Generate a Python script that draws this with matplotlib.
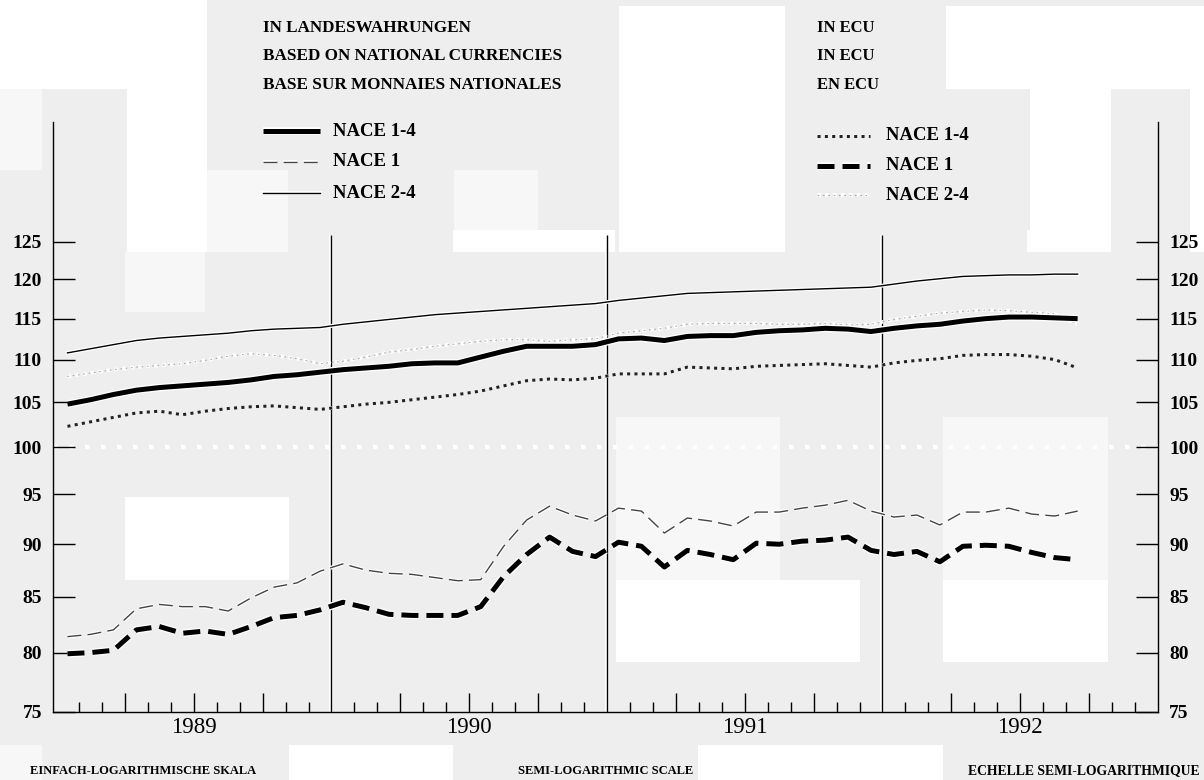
import numpy as np
import matplotlib.pyplot as plt
import matplotlib.patheffects as pe
import matplotlib.transforms as mtransforms
from matplotlib.lines import Line2D
from matplotlib.patches import Rectangle
from matplotlib.ticker import FixedLocator, NullLocator

plt.rcParams['font.family'] = ['Liberation Serif', 'DejaVu Serif']

# Indices mensuels, janv. 1989 - sept. 1992 (base 100)
nat_1_4 = [104.8, 105.3, 105.9, 106.4, 106.7, 106.9, 107.1, 107.3, 107.6, 108.0, 108.2, 108.5,
           108.8, 109.0, 109.2, 109.5, 109.6, 109.6, 110.3, 111.0, 111.6, 111.6, 111.6, 111.8,
           112.5, 112.6, 112.3, 112.8, 112.9, 112.9, 113.3, 113.5, 113.6, 113.8, 113.7, 113.4,
           113.8, 114.1, 114.3, 114.7, 115.0, 115.2, 115.2, 115.1, 115.0]
nat_1 = [81.4, 81.6, 82.0, 83.9, 84.3, 84.1, 84.1, 83.7, 84.9, 85.9, 86.3, 87.4,
         88.1, 87.5, 87.2, 87.1, 86.8, 86.5, 86.6, 89.8, 92.4, 93.8, 92.9, 92.3,
         93.6, 93.3, 91.1, 92.6, 92.3, 91.8, 93.2, 93.2, 93.6, 93.9, 94.4, 93.3,
         92.7, 92.9, 91.9, 93.2, 93.2, 93.6, 93.0, 92.8, 93.3]
nat_2_4 = [110.8, 111.3, 111.8, 112.3, 112.6, 112.8, 113.0, 113.2, 113.5, 113.7, 113.8, 113.9,
           114.3, 114.6, 114.9, 115.2, 115.5, 115.7, 115.9, 116.1, 116.3, 116.5, 116.7, 116.9,
           117.3, 117.6, 117.9, 118.2, 118.3, 118.4, 118.5, 118.6, 118.7, 118.8, 118.9, 119.0,
           119.4, 119.8, 120.1, 120.4, 120.5, 120.6, 120.6, 120.7, 120.7]
ecu_1_4 = [102.3, 102.8, 103.3, 103.8, 104.0, 103.6, 104.0, 104.3, 104.5, 104.6, 104.4, 104.2,
           104.5, 104.8, 105.0, 105.3, 105.6, 105.9, 106.3, 106.9, 107.5, 107.7, 107.6, 107.8,
           108.3, 108.3, 108.3, 109.1, 109.0, 108.9, 109.2, 109.3, 109.4, 109.5, 109.3, 109.1,
           109.6, 109.9, 110.1, 110.5, 110.6, 110.6, 110.4, 110.0, 109.0]
ecu_1 = [79.9, 80.0, 80.2, 82.0, 82.3, 81.7, 81.9, 81.6, 82.3, 83.1, 83.3, 83.8,
         84.5, 84.0, 83.4, 83.3, 83.3, 83.3, 84.1, 86.9, 89.0, 90.7, 89.3, 88.8,
         90.2, 89.8, 87.8, 89.4, 89.0, 88.5, 90.1, 90.0, 90.3, 90.4, 90.7, 89.4,
         89.0, 89.3, 88.3, 89.8, 89.9, 89.8, 89.2, 88.7, 88.5]
ecu_2_4 = [108.0, 108.4, 108.8, 109.1, 109.3, 109.5, 109.9, 110.4, 110.7, 110.5, 110.1, 109.5,
           109.8, 110.3, 110.9, 111.2, 111.6, 111.9, 112.2, 112.4, 112.4, 112.2, 112.4, 112.5,
           113.2, 113.5, 113.8, 114.3, 114.4, 114.4, 114.4, 114.3, 114.3, 114.4, 114.2, 114.3,
           114.9, 115.3, 115.7, 115.9, 116.1, 116.0, 115.8, 115.6, 114.3]

years = ['1989', '1990', '1991', '1992']
yticks = [75, 80, 85, 90, 95, 100, 105, 110, 115, 120, 125]

header_nat = ['IN LANDESWAHRUNGEN', 'BASED ON NATIONAL CURRENCIES', 'BASE SUR MONNAIES NATIONALES']
header_ecu = ['IN ECU', 'IN ECU', 'EN ECU']
labels = ['NACE 1-4', 'NACE 1', 'NACE 2-4']
bottom_texts = ['EINFACH-LOGARITHMISCHE SKALA', 'SEMI-LOGARITHMIC SCALE', 'ECHELLE SEMI-LOGARITHMIQUE']

W, H = 1204, 780
def fx(x): return x / W
def fy(y): return 1 - y / H

halo = [pe.withStroke(linewidth=5.5, foreground='white')]
halo_thin = [pe.withStroke(linewidth=2.8, foreground='white')]

styles = {
    'nat_1_4': dict(color='black', lw=3.6, solid_capstyle='butt', path_effects=halo),
    'nat_1': dict(color='#444444', lw=1.0, dashes=(10, 4.5), path_effects=halo_thin),
    'nat_2_4': dict(color='black', lw=1.0, path_effects=halo_thin),
    'ecu_1_4': dict(color='#222222', lw=2.2, dashes=(1.0, 1.4), path_effects=halo_thin),
    'ecu_1': dict(color='black', lw=3.6, dashes=(3.4, 1.6), path_effects=halo),
    'ecu_2_4': dict(color='white', lw=2.6, dashes=(1.0, 1.2)),
}

fig = plt.figure(figsize=(W / 100, H / 100), dpi=100)
fig.patch.set_facecolor('#eeeeee')

# fond en blocs (aspect de scan)
blocks = [
    (0, 0, 207, 89, 'white'), (619, 6, 785, 89, 'white'), (946, 6, 1204, 89, 'white'),
    (0, 89, 42, 170, '#f7f7f7'), (127, 89, 207, 252, 'white'), (619, 89, 785, 252, 'white'),
    (1030, 89, 1111, 252, 'white'), (1190, 89, 1204, 252, 'white'),
    (207, 170, 288, 252, '#f7f7f7'), (454, 170, 538, 252, '#f7f7f7'),
    (125, 252, 205, 312, '#f7f7f7'), (453, 230, 615, 252, 'white'), (1027, 230, 1108, 252, 'white'),
    (616, 417, 780, 580, '#f7f7f7'), (943, 417, 1108, 580, '#f7f7f7'),
    (125, 497, 289, 580, 'white'), (616, 580, 860, 662, 'white'), (943, 580, 1108, 662, 'white'),
    (289, 745, 453, 780, 'white'), (698, 745, 943, 780, 'white'), (0, 745, 42, 780, '#f7f7f7'),
]
for x0, y0, x1, y1, c in blocks:
    fig.patches.append(Rectangle((fx(x0), fy(y1)), fx(x1 - x0), (y1 - y0) / H,
                                 transform=fig.transFigure, color=c, zorder=-5, lw=0))

ax = fig.add_axes([fx(53), fy(712), fx(1158 - 53), (712 - 122) / H])
ax.patch.set_visible(False)

x = np.arange(len(nat_1_4)) + 0.5

ax.axhline(100, color='white', lw=3.2, dashes=(1.0, 2.6), zorder=1)
ax.vlines([12, 24, 36], 75, 126, color='black', lw=1.0, zorder=2,
          path_effects=halo_thin)

ax.plot(x, ecu_2_4, zorder=3, **styles['ecu_2_4'])
ax.plot(x, ecu_2_4, color='#aaaaaa', lw=0.8, dashes=(1.5, 3.3), zorder=3)
ax.plot(x, nat_2_4, zorder=4, **styles['nat_2_4'])
ax.plot(x, ecu_1_4, zorder=4, **styles['ecu_1_4'])
ax.plot(x, nat_1, zorder=4, **styles['nat_1'])
ax.plot(x, ecu_1, zorder=5, **styles['ecu_1'])
ax.plot(x, nat_1_4, zorder=5, **styles['nat_1_4'])

ax.set_yscale('log')
ax.set_xlim(-0.13, 48)
ax.set_ylim(75, 142.4)
ax.yaxis.set_major_locator(FixedLocator(yticks))
ax.yaxis.set_minor_locator(NullLocator())
ax.set_yticklabels([str(v) for v in yticks])
ax.tick_params(axis='y', direction='in', length=16, width=1.0, pad=8,
               left=True, right=True, labelleft=True, labelright=True, labelsize=14)
for lab in ax.get_yticklabels():
    lab.set_fontweight('bold')

quarters = [m for m in range(3, 48, 3) if m % 12 != 0]
months_t = [m for m in range(1, 48) if m % 3 != 0]
ax.xaxis.set_major_locator(FixedLocator(quarters))
ax.xaxis.set_minor_locator(FixedLocator(months_t))
ax.tick_params(axis='x', which='major', direction='in', length=14, width=1.0, labelbottom=False)
ax.tick_params(axis='x', which='minor', direction='in', length=7, width=1.0)

ax.spines['top'].set_visible(False)
for s in ['left', 'right', 'bottom']:
    ax.spines[s].set_linewidth(1.0)

trans = mtransforms.blended_transform_factory(ax.transData, ax.transAxes)
for i, yr in enumerate(years):
    ax.text(12 * i + 6, -0.026, yr, transform=trans, ha='center', va='center', fontsize=16.5)

# en-tetes et legendes
for i, t in enumerate(header_nat):
    fig.text(fx(263), fy(28 + 28.5 * i), t, ha='left', va='center', fontsize=12.3, fontweight='bold')
for i, t in enumerate(header_ecu):
    fig.text(fx(817), fy(28 + 28.5 * i), t, ha='left', va='center', fontsize=12, fontweight='bold')

for i, key in enumerate(['nat_1_4', 'nat_1', 'nat_2_4']):
    yy = fy(131 + 31 * i)
    fig.add_artist(Line2D([fx(263), fx(320)], [yy, yy], transform=fig.transFigure, **styles[key]))
    fig.text(fx(333), yy, labels[i], ha='left', va='center', fontsize=13.5, fontweight='bold')
for i, key in enumerate(['ecu_1_4', 'ecu_1', 'ecu_2_4']):
    yy = fy(136 + 29.5 * i)
    fig.add_artist(Line2D([fx(817), fx(870)], [yy, yy], transform=fig.transFigure, **styles[key]))
    if key == 'ecu_2_4':
        fig.add_artist(Line2D([fx(817), fx(870)], [yy, yy], transform=fig.transFigure,
                              color='#aaaaaa', lw=0.8, dashes=(1.5, 3.3)))
    fig.text(fx(886), yy, labels[i], ha='left', va='center', fontsize=13.5, fontweight='bold')

fig.text(fx(30), fy(771), bottom_texts[0], ha='left', va='center', fontsize=9, fontweight='bold')
fig.text(fx(606), fy(771), bottom_texts[1], ha='center', va='center', fontsize=9, fontweight='bold')
fig.text(fx(1200), fy(771), bottom_texts[2], ha='right', va='center', fontsize=9.8, fontweight='bold')

plt.savefig('out.png', dpi=100)
